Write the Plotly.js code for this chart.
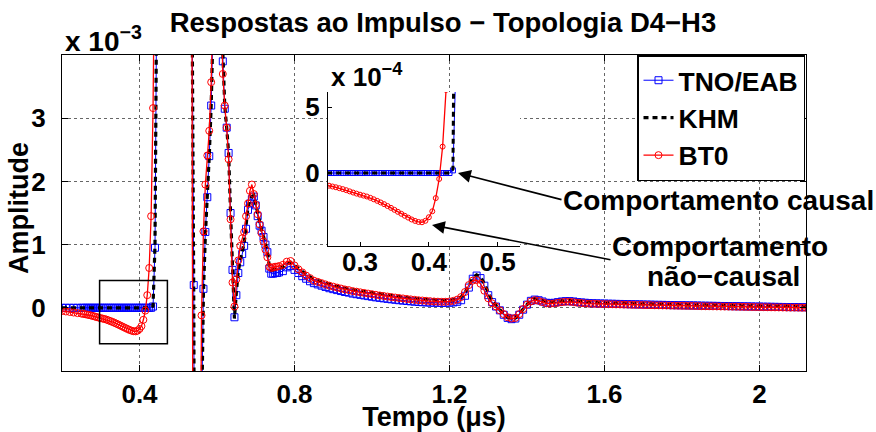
<!DOCTYPE html>
<html><head><meta charset="utf-8">
<script src="https://cdn.plot.ly/plotly-3.0.1.min.js"></script>
<style>html,body{margin:0;padding:0;background:#fff}#chart{width:876px;height:432px}</style>
</head><body><div id="chart"></div>
<script>
// ---- time grid (µs) ----
const timeEarly = [0.2,0.21,0.22,0.23,0.24];
const timePulse = [0.25,0.255,0.26,0.265,0.27,0.275,0.28,0.285,0.29,0.295,
0.3,0.305,0.31,0.315,0.32,0.325,0.33,0.335,0.34,0.345,
0.35,0.355,0.36,0.365,0.37,0.375,0.38,0.385,0.39,0.395,
0.4,0.405,0.41,0.415,0.42,0.425,0.43,0.435,0.44,0.445,
0.45,0.455,0.46,0.465,0.47,0.475,0.48,0.485,0.49,0.495,
0.5,0.505,0.51,0.515,0.52,0.525,0.53,0.535,0.54,0.545,
0.55,0.555,0.56,0.565,0.57,0.575,0.58,0.585,0.59,0.595,
0.6,0.605,0.61,0.615,0.62,0.625,0.63,0.635,0.64,0.645,
0.65,0.655,0.66,0.665,0.67,0.675,0.68,0.685,0.69,0.695,
0.7,0.705,0.71,0.715,0.72,0.725,0.73,0.735,0.74,0.745,
0.75,0.755,0.76];
const timeTail = [0.77,0.78,0.79,0.8,0.81,0.82,0.83,0.84,0.85,0.86,
0.87,0.88,0.89,0.9,0.91,0.92,0.93,0.94,0.95,0.96,
0.97,0.98,0.99,1,1.01,1.02,1.03,1.04,1.05,1.06,
1.07,1.08,1.09,1.1,1.11,1.12,1.13,1.14,1.15,1.16,
1.17,1.18,1.19,1.2,1.21,1.22,1.23,1.24,1.25,1.26,
1.27,1.28,1.29,1.3,1.31,1.32,1.33,1.34,1.35,1.36,
1.37,1.38,1.39,1.4,1.41,1.42,1.43,1.44,1.45,1.46,
1.47,1.48,1.49,1.5,1.51,1.52,1.53,1.54,1.55,1.56,
1.57,1.58,1.59,1.6,1.61,1.62,1.63,1.64,1.65,1.66,
1.67,1.68,1.69,1.7,1.71,1.72,1.73,1.74,1.75,1.76,
1.77,1.78,1.79,1.8,1.81,1.82,1.83,1.84,1.85,1.86,
1.87,1.88,1.89,1.9,1.91,1.92,1.93,1.94,1.95,1.96,
1.97,1.98,1.99,2,2.01,2.02,2.03,2.04,2.05,2.06,
2.07,2.08,2.09,2.1,2.11,2.12];

// ---- TNO/EAB (x 10^-3) ----
const tnoEarly = [0,0,0,0,0];
const tnoPulse = [0,0,0,0,0,0,0,0,0,0,
0,0,0,0,0,0,0,0,0,0,
0,0,0,0,0,0,0,0,0,0,
0,0,0,0,0,0,0,0.02,0.95,5.5,
12,18,23,27,29,30,30,29,27,25,
22,19,16,13,10.5,8.5,7,5.5,0.36,-10,
-12,-8,-1.8,0.3,1.2,1.75,2.4,3.2,4.4,6,
7,6.5,4.8,3.9,3.15,2.85,2.45,1.5,0.6,-0.15,
0.2,0.55,0.72,0.85,0.98,1.25,1.55,1.65,1.72,1.76,
1.62,1.45,1.3,1.22,1.12,1,0.88,0.62,0.54,0.54,
0.55,0.55,0.56];
const tnoTail = [0.58,0.64,0.66,0.6,0.55,0.5,0.46,0.42,0.39,0.37,
0.35,0.33,0.31,0.295,0.28,0.265,0.25,0.24,0.225,0.215,
0.205,0.195,0.185,0.175,0.165,0.157,0.149,0.141,0.134,0.127,
0.12,0.114,0.108,0.102,0.097,0.092,0.088,0.085,0.082,0.08,
0.079,0.078,0.078,0.08,0.085,0.095,0.12,0.19,0.32,0.46,
0.51,0.47,0.35,0.2,0.09,0.02,-0.04,-0.11,-0.16,-0.18,
-0.17,-0.11,-0.03,0.05,0.11,0.13,0.12,0.1,0.08,0.075,
0.08,0.09,0.1,0.105,0.105,0.1,0.09,0.085,0.08,0.074,
0.072,0.07,0.068,0.067,0.065,0.064,0.062,0.061,0.059,0.058,
0.056,0.055,0.054,0.052,0.051,0.05,0.048,0.047,0.046,0.045,
0.043,0.042,0.041,0.04,0.039,0.038,0.037,0.036,0.034,0.033,
0.032,0.031,0.03,0.029,0.028,0.027,0.026,0.025,0.024,0.023,
0.022,0.021,0.02,0.019,0.018,0.017,0.016,0.015,0.014,0.013,
0.012,0.011,0.011,0.01,0.009,0.009];

// ---- KHM (x 10^-3) ----
const khmEarly = [0,0,0,0,0];
const khmPulse = [0,0,0,0,0,0,0,0,0,0,
0,0,0,0,0,0,0,0,0,0,
0,0,0,0,0,0,0,0,0,0,
0,0,0,0,0,0,0,0.03,1,5.6,
12,18,23,27,29,30,30,29,27,25,
22,19,16,13,10.5,8.5,7,5.6,0.2,-10,
-12,-8,-1.9,0.25,1.15,1.75,2.4,3.2,4.4,6,
7,6.5,4.9,3.95,3.2,2.85,2.45,1.5,0.55,-0.17,
0.25,0.58,0.75,0.88,1.02,1.3,1.6,1.7,1.76,1.78,
1.64,1.47,1.32,1.23,1.13,1.01,0.9,0.66,0.6,0.6,
0.61,0.61,0.62];
const khmTail = [0.64,0.7,0.72,0.67,0.62,0.57,0.53,0.49,0.45,0.43,
0.41,0.39,0.37,0.355,0.34,0.325,0.31,0.3,0.285,0.275,
0.265,0.255,0.245,0.235,0.225,0.215,0.207,0.198,0.19,0.182,
0.175,0.168,0.16,0.153,0.146,0.14,0.135,0.13,0.125,0.12,
0.117,0.115,0.115,0.118,0.125,0.14,0.17,0.24,0.36,0.47,
0.52,0.49,0.38,0.23,0.11,0.04,-0.03,-0.1,-0.15,-0.17,
-0.16,-0.1,-0.02,0.06,0.12,0.14,0.13,0.11,0.09,0.085,
0.09,0.1,0.11,0.115,0.115,0.11,0.1,0.095,0.09,0.082,
0.08,0.078,0.076,0.075,0.073,0.072,0.07,0.069,0.067,0.066,
0.064,0.063,0.062,0.06,0.059,0.058,0.056,0.055,0.054,0.053,
0.051,0.05,0.049,0.048,0.047,0.046,0.045,0.044,0.042,0.041,
0.04,0.039,0.038,0.037,0.036,0.035,0.034,0.033,0.032,0.031,
0.03,0.029,0.028,0.027,0.026,0.025,0.024,0.023,0.022,0.021,
0.02,0.019,0.019,0.018,0.017,0.017];

// ---- BT0 (x 10^-3) ----
const bt0Early = [-0.05,-0.058,-0.066,-0.075,-0.084];
const bt0Pulse = [-0.092,-0.096,-0.102,-0.108,-0.115,-0.122,-0.13,-0.139,-0.148,-0.156,
-0.164,-0.171,-0.178,-0.188,-0.199,-0.211,-0.223,-0.236,-0.25,-0.264,
-0.279,-0.294,-0.309,-0.324,-0.338,-0.352,-0.363,-0.371,-0.373,-0.362,
-0.335,-0.29,-0.19,-0.045,0.2,0.63,1.45,3.16,6.3,10.5,
15,20,24,27,29,30,30,29,27,25,
22,19,16,13,10.5,8.5,7,5.5,-9,-12,
-10,-5,-0.12,1.21,1.95,2.41,2.8,3.57,5.5,7,
7.5,6.5,4.8,3.7,3.2,2.85,2.35,1.4,0.4,0.02,
0.45,0.75,0.98,1.1,1.2,1.45,1.65,1.85,1.95,1.8,
1.63,1.48,1.32,1.18,1.05,0.92,0.8,0.65,0.63,0.64,
0.65,0.65,0.66];
const bt0Tail = [0.68,0.73,0.74,0.67,0.61,0.56,0.51,0.47,0.43,0.41,
0.39,0.37,0.35,0.335,0.32,0.305,0.29,0.28,0.265,0.255,
0.245,0.235,0.225,0.215,0.205,0.195,0.187,0.178,0.17,0.162,
0.155,0.148,0.14,0.133,0.126,0.12,0.115,0.11,0.105,0.1,
0.097,0.095,0.095,0.1,0.11,0.13,0.17,0.25,0.36,0.43,
0.44,0.38,0.27,0.15,0.07,0.02,-0.04,-0.1,-0.15,-0.17,
-0.16,-0.1,-0.02,0.05,0.1,0.12,0.11,0.09,0.07,0.065,
0.07,0.08,0.09,0.095,0.095,0.09,0.08,0.075,0.07,0.066,
0.064,0.062,0.06,0.059,0.057,0.056,0.054,0.053,0.051,0.05,
0.048,0.047,0.046,0.044,0.043,0.042,0.04,0.039,0.038,0.037,
0.035,0.034,0.033,0.032,0.031,0.03,0.029,0.028,0.026,0.025,
0.024,0.023,0.022,0.021,0.02,0.019,0.018,0.017,0.016,0.015,
0.014,0.013,0.012,0.011,0.01,0.009,0.008,0.007,0.006,0.005,
0.004,0.003,0.003,0.002,0.001,0.001];

const seriesNames = ['TNO/EAB','KHM','BT0'];
const xTickVals = [0.4,0.8,1.2,1.6,2];
const xTickText = ['0.4','0.8','1.2','1.6','2'];
const yTickVals = [0,1,2,3];
const yTickText = ['0','1','2','3'];
const insetXTickVals = [0.3,0.4,0.5];
const insetXTickText = ['0.3','0.4','0.5'];
const insetYTickVals = [0,0.5];
const insetYTickText = ['0','5'];

const time = timeEarly.concat(timePulse, timeTail);
const tno = tnoEarly.concat(tnoPulse, tnoTail);
const khm = khmEarly.concat(khmPulse, khmTail);
const bt0 = bt0Early.concat(bt0Pulse, bt0Tail);

const F = 'Liberation Sans, Arial, Helvetica, sans-serif';
const BLUE = 'rgb(0,0,255)', RED = 'rgb(255,0,0)';

function mk(xa, ya, big, legend) {
  const ms = big ? 7 : 5;
  return [
    {x: time, y: tno, name: seriesNames[0], xaxis: xa, yaxis: ya, showlegend: legend,
     type: 'scatter', mode: 'lines+markers', cliponaxis: true,
     line: {color: BLUE, width: 1},
     marker: {symbol: 'square-open', size: ms, color: BLUE, line: {width: 1, color: BLUE}}},
    {x: time, y: khm, name: seriesNames[1], xaxis: xa, yaxis: ya, showlegend: legend,
     type: 'scatter', mode: 'lines', cliponaxis: true,
     line: {color: '#000', width: big ? 3.2 : 3, dash: '5px,4px'}},
    {x: time, y: bt0, name: seriesNames[2], xaxis: xa, yaxis: ya, showlegend: legend,
     type: 'scatter', mode: 'lines+markers', cliponaxis: true,
     line: {color: RED, width: 1.3},
     marker: {symbol: 'circle-open', size: ms, color: RED, line: {width: 1, color: RED}}}
  ];
}
const data = mk('x', 'y', true, true).concat(mk('x2', 'y2', false, false));

// pixel -> paper helpers (plot area 62..806 x 55..371)
const px = v => (v - 62) / 744;
const py = v => (371 - v) / 316;

const tickFont = {family: F, size: 26, color: '#000', weight: 'bold'};
const expFont = {family: F, size: 28, color: '#000', weight: 'bold'};
const annFont = {family: F, size: 28, color: '#000', weight: 'bold'};
const axTitleFont = {family: F, size: 27, color: '#000', weight: 'bold'};

const layout = {
  width: 876, height: 432,
  margin: {l: 62, r: 70, t: 55, b: 61, pad: 0},
  paper_bgcolor: '#fff', plot_bgcolor: '#fff',
  font: {family: F, size: 25, color: '#000', weight: 'bold'},
  showlegend: true,
  title: {text: 'Respostas ao Impulso − Topologia D4−H3',
          font: {family: F, size: 27.5, color: '#000', weight: 'bold'},
          x: 443 / 876, xanchor: 'center', xref: 'container',
          y: 1 - 22 / 432, yanchor: 'middle', yref: 'container'},
  xaxis: {domain: [0, 1], anchor: 'y', range: [0.2, 2.12],
          tickmode: 'array', tickvals: xTickVals, ticktext: xTickText,
          ticks: 'inside', ticklen: 6, tickwidth: 1, tickcolor: '#000',
          showline: true, linecolor: '#000', linewidth: 1, mirror: 'ticks',
          showgrid: true, gridcolor: '#666', griddash: 'dot', gridwidth: 1,
          zeroline: false, tickfont: tickFont, ticklabelstandoff: 0,
          title: {text: 'Tempo (μs)', font: axTitleFont, standoff: 1}},
  yaxis: {domain: [0, 1], anchor: 'x', range: [-1, 4],
          tickmode: 'array', tickvals: yTickVals, ticktext: yTickText,
          ticks: 'inside', ticklen: 6, tickwidth: 1, tickcolor: '#000',
          showline: true, linecolor: '#000', linewidth: 1, mirror: 'ticks',
          showgrid: true, gridcolor: '#666', griddash: 'dot', gridwidth: 1,
          zeroline: false, tickfont: tickFont, ticklabelstandoff: 10},
  xaxis2: {domain: [px(328), px(520)], anchor: 'y2', range: [0.2535, 0.5324],
           tickmode: 'array', tickvals: insetXTickVals, ticktext: insetXTickText,
           ticks: 'inside', ticklen: 4, tickcolor: '#000',
           showline: true, linecolor: '#000', linewidth: 1, mirror: false,
           showgrid: false, zeroline: false, tickfont: tickFont, ticklabelstandoff: -7},
  yaxis2: {domain: [py(246), py(92)], anchor: 'x2', range: [-0.553, 0.614],
           tickmode: 'array', tickvals: insetYTickVals, ticktext: insetYTickText,
           ticks: 'inside', ticklen: 4, tickcolor: '#000',
           showline: true, linecolor: '#000', linewidth: 1, mirror: false,
           showgrid: false, zeroline: false, tickfont: tickFont, ticklabelstandoff: 2},
  legend: {x: px(805), y: py(55), xanchor: 'right', yanchor: 'top',
           bgcolor: '#fff', bordercolor: '#000', borderwidth: 1.5,
           font: {family: F, size: 26.5, color: '#000', weight: 'bold'},
           itemwidth: 30, tracegroupgap: 0, traceorder: 'normal'},
  shapes: [
    {type: 'rect', xref: 'x', yref: 'y', x0: 0.297, x1: 0.472, y0: -0.57, y1: 0.432,
     fillcolor: 'rgba(0,0,0,0)', line: {color: '#000', width: 1.5}, layer: 'above'},
    {type: 'rect', xref: 'x2', yref: 'y2', x0: 0.2535, x1: 0.5324, y0: -0.553, y1: 0.614,
     fillcolor: '#fff', line: {width: 0}, layer: 'below'}
  ],
  annotations: [
    {xref: 'paper', yref: 'paper', x: px(19), y: py(208), xanchor: 'center', yanchor: 'middle',
     text: 'Amplitude', textangle: -90, showarrow: false, font: axTitleFont},
    {xref: 'paper', yref: 'paper', x: px(63), y: py(59), xanchor: 'left', yanchor: 'bottom',
     text: 'x 10<sup>−3</sup>', showarrow: false, font: expFont},
    {xref: 'paper', yref: 'paper', x: px(329), y: py(94), xanchor: 'left', yanchor: 'bottom',
     text: 'x 10<sup>−4</sup>', showarrow: false, font: tickFont},
    {xref: 'paper', yref: 'paper', x: px(458), y: py(173), text: '', showarrow: true,
     ax: 105, ay: 27, axref: 'pixel', ayref: 'pixel', arrowhead: 2, arrowsize: 1.6,
     arrowwidth: 1.6, arrowcolor: '#000', standoff: 0, startstandoff: 0},
    {xref: 'paper', yref: 'paper', x: px(432), y: py(225), text: '', showarrow: true,
     ax: 180, ay: 35, axref: 'pixel', ayref: 'pixel', arrowhead: 2, arrowsize: 1.6,
     arrowwidth: 1.6, arrowcolor: '#000', standoff: 0, startstandoff: 0},
    {xref: 'paper', yref: 'paper', x: px(718), y: py(200), xanchor: 'center', yanchor: 'middle',
     text: 'Comportamento causal', showarrow: false, font: annFont},
    {xref: 'paper', yref: 'paper', x: px(720), y: py(246), xanchor: 'center', yanchor: 'middle',
     text: 'Comportamento', showarrow: false, font: annFont},
    {xref: 'paper', yref: 'paper', x: px(723), y: py(276), xanchor: 'center', yanchor: 'middle',
     text: 'não−causal', showarrow: false, font: annFont}
  ]
};

Plotly.newPlot('chart', data, layout, {displayModeBar: false, staticPlot: true});
</script></body></html>
